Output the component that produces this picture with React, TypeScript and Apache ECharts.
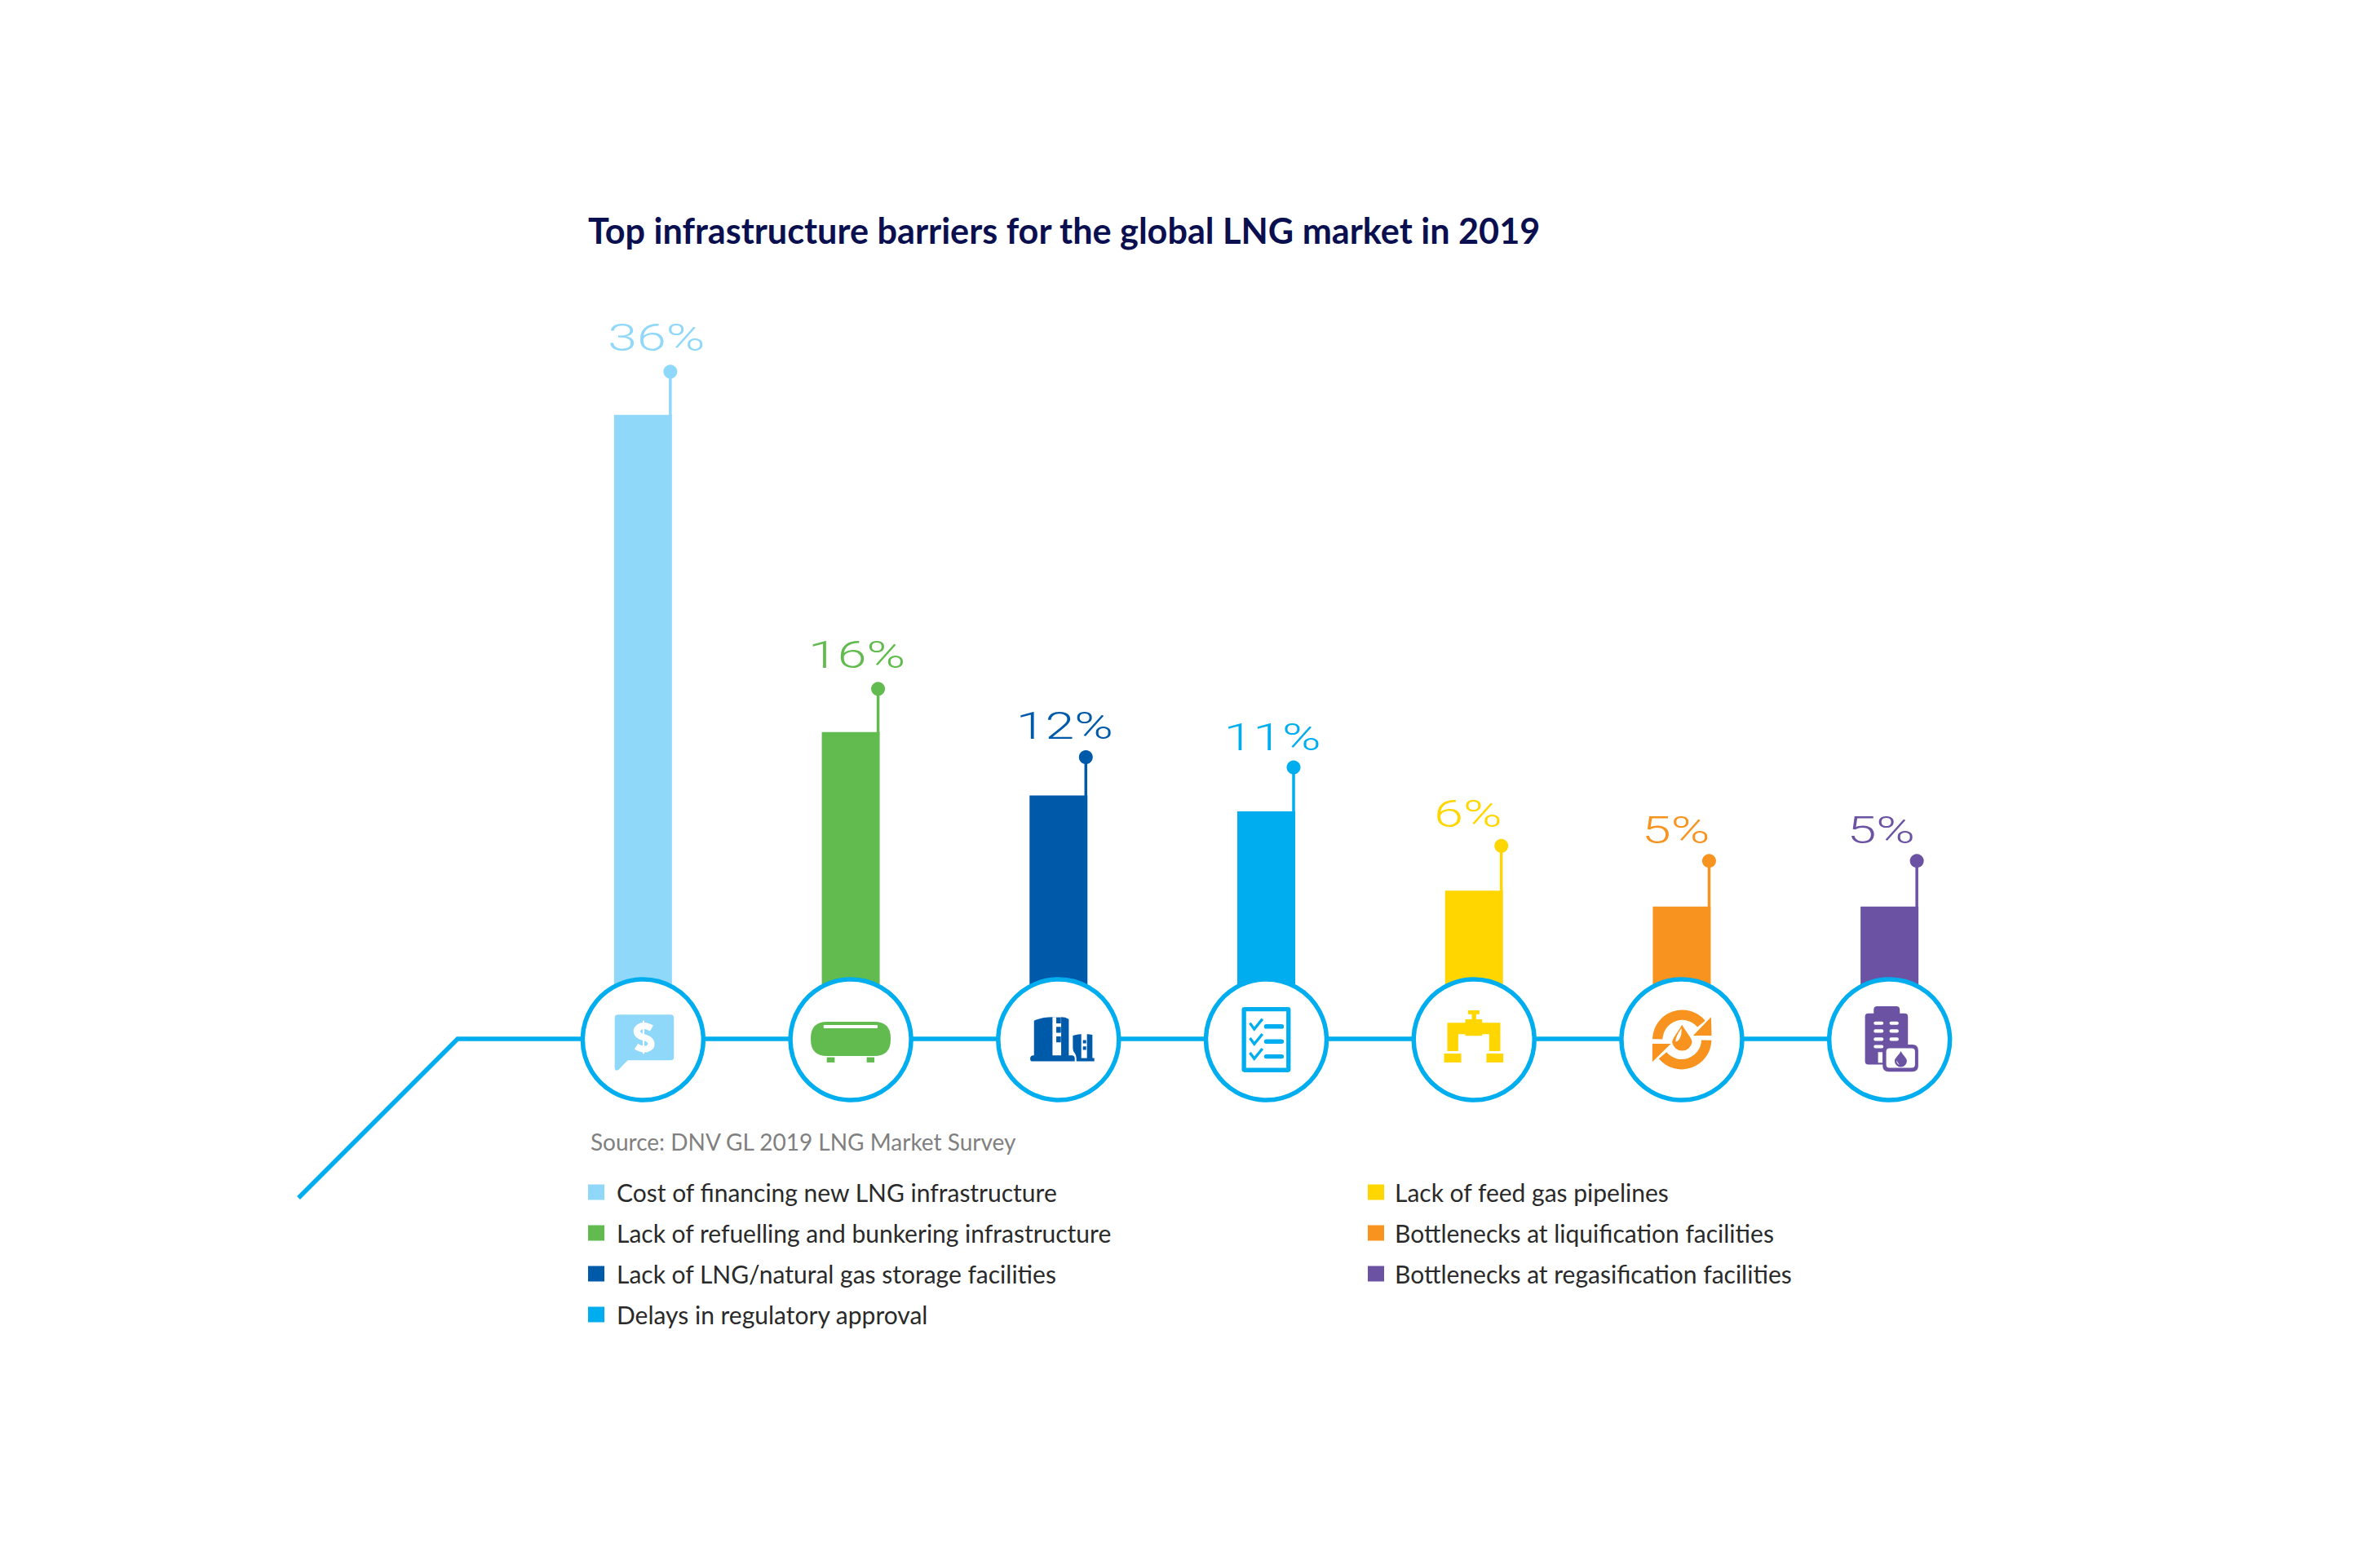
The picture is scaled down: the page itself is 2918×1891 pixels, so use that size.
import React, { useEffect, useRef } from "react";
import * as echarts from "echarts";

const categories = [
  "Cost of financing new LNG infrastructure",
  "Lack of refuelling and bunkering infrastructure",
  "Lack of LNG/natural gas storage facilities",
  "Delays in regulatory approval",
  "Lack of feed gas pipelines",
  "Bottlenecks at liquification facilities",
  "Bottlenecks at regasification facilities",
];
const values = [36, 16, 12, 11, 6, 5, 5];
const colors = ["#8FD8FA", "#62BB4E", "#005AAA", "#00AEEF", "#FFD600", "#F7931E", "#6B52A2"];

const titleText = "Top infrastructure barriers for the global LNG market in 2019";
const sourceText = "Source: DNV GL 2019 LNG Market Survey";

// layout helpers (pixels above the bar top)
const stemLengths = [53, 53, 47, 54, 55, 56, 56];
const labelLifts = [80, 80, 71, 77, 80, 79, 79];
const labelShift = [-43, -52, -52, -52, -49, -49, -52];

type Layer = { d: string; fill?: string; stroke?: string; lw?: number };
const W = "#ffffff";
const rr = (x0: number, y0: number, x1: number, y1: number, r: number) =>
  `M${x0 + r} ${y0}H${x1 - r}Q${x1} ${y0} ${x1} ${y0 + r}V${y1 - r}Q${x1} ${y1} ${x1 - r} ${y1}H${x0 + r}Q${x0} ${y1} ${x0} ${y1 - r}V${y0 + r}Q${x0} ${y0} ${x0 + r} ${y0}Z`;
const MAIN = "main";

const icons: Layer[][] = [
  [
    { d: "M88 88H282Q294 88 294 100V244Q294 256 282 256H124L90 291Q76 298 76 282V100Q76 88 88 88Z", fill: MAIN },
    { d: "M212 138Q188 124 170 132Q152 142 160 158Q166 168 185 172Q205 178 210 190Q214 208 195 214Q175 218 155 205", stroke: W, lw: 24 },
    { d: "M182 110V232", stroke: W, lw: 6 },
  ],
  [
    { d: "M93 114H267Q327 114 327 174V180Q327 240 267 240H93Q33 240 33 180V174Q33 114 93 114Z", fill: MAIN },
    { d: rr(80, 126, 279, 138, 3), fill: W },
    { d: "M92 245H121V264H92Z", fill: MAIN },
    { d: "M239 245H267V264H239Z", fill: MAIN },
  ],
  [
    { d: "M90 110Q120 97 160 97H190Q205 97 218 104V238H232Q240 240 240 248V260H82Q76 260 76 250Q76 238 88 238H90Z", fill: MAIN },
    { d: "M158 97H172V238H158ZM172 97H190V238H172Z", fill: W },
    { d: "M172 133H189V155H172ZM172 168H189V190H172ZM172 98H189V120H172Z", fill: MAIN },
    { d: "M233 165Q265 155 305 162V248H312V260H246V248Q246 238 240 230Q233 222 233 212Z", fill: MAIN },
    { d: "M264 158H285V248H264Z", fill: W },
    { d: "M270 182H282V194H270ZM270 205H282V218H270Z", fill: MAIN },
  ],
  [
    { d: "M100 68H260Q262 68 262 70V290Q262 292 260 292H100Q98 292 98 290V70Q98 68 100 68Z", stroke: MAIN, lw: 16 },
    { d: "M120 119L136 141L166 104", stroke: MAIN, lw: 10 },
    { d: "M120 174L136 196L166 159", stroke: MAIN, lw: 10 },
    { d: "M120 228L136 250L166 213", stroke: MAIN, lw: 10 },
    { d: rr(172, 123, 245, 140, 8), fill: MAIN },
    { d: rr(172, 179, 245, 195, 8), fill: MAIN },
    { d: rr(172, 234, 245, 250, 8), fill: MAIN },
  ],
  [
    { d: "M158 72H200V86H188V105H210V118H277V222H236V160H210V166H148V160H122V222H82V118H148V105H172V86H158Z", fill: MAIN },
    { d: "M70 231H133V264H70Z", fill: MAIN },
    { d: "M226 231H288V264H226Z", fill: MAIN },
  ],
  [
    { d: "M91 178A91 91 0 0 1 252 122", stroke: MAIN, lw: 37 },
    { d: "M288 97L290 165H222Z", fill: MAIN },
    { d: "M271 182A91 91 0 0 1 110 238", stroke: MAIN, lw: 37 },
    { d: "M72 262L72 195H140Z", fill: MAIN },
    { d: "M181 125C195 150 218 175 218 190A37 37 0 0 1 145 190C145 175 168 150 181 125Z", fill: MAIN },
    { d: "M179 138C170 150 155 175 158 188C172 185 181 165 179 138Z", fill: W },
  ],
  [
    { d: "M122 83V70Q122 57 135 57H205Q218 57 218 70V83H236Q248 83 248 95V260Q248 272 236 272H102Q90 272 90 260V95Q90 83 102 83Z", fill: MAIN },
    { d: rr(122, 113, 158, 125, 6), fill: W },
    { d: rr(180, 113, 214, 125, 6), fill: W },
    { d: rr(122, 142, 158, 155, 6), fill: W },
    { d: rr(180, 142, 214, 155, 6), fill: W },
    { d: rr(122, 172, 158, 185, 6), fill: W },
    { d: rr(180, 172, 214, 185, 6), fill: W },
    { d: rr(122, 200, 158, 212, 6), fill: W },
    { d: "M138 226H155V265H138Z", fill: W },
    { d: rr(155, 198, 286, 298, 22), fill: MAIN },
    { d: rr(168, 212, 274, 284, 12), fill: W },
    { d: "M222 222C230 238 244 248 244 258A22 22 0 0 1 199 258C199 248 214 238 222 222Z", fill: MAIN },
    { d: "M206 256C206 266 212 272 217 273C212 268 210 262 206 256Z", fill: W },
  ],
];

icons.forEach((layers, i) =>
  layers.forEach((l, j) => {
    echarts.graphic.registerShape(`ic${i}_${j}`, echarts.graphic.extendPath(l.d, {}) as any);
  })
);

const BODY = "Lato, 'Noto Sans', sans-serif";

export default function App() {
  const ref = useRef<HTMLDivElement>(null);
  useEffect(() => {
    const chart = echarts.init(ref.current!, undefined, { renderer: "svg" });
    const barSeries = categories.map((name, i) => ({
      name,
      type: "bar",
      stack: "all",
      barWidth: 71,
      itemStyle: { color: colors[i] },
      data: values.map((v, j) => (j === i ? v : null)),
      z: 2,
    }));
    const legendBase = {
      orient: "vertical",
      top: 1447,
      padding: 0,
      itemWidth: 20,
      itemHeight: 19,
      itemGap: 20,
      icon: "rect",
      selectedMode: false,
    };
    const legendText = { fontFamily: BODY, fontSize: 30, color: "#2A2A2A", lineHeight: 30 };
    chart.setOption({
      animation: false,
      backgroundColor: "#ffffff",
      title: {
        text: titleText,
        left: 721,
        top: 260,
        padding: 0,
        textStyle: { fontFamily: BODY, fontWeight: 700, fontSize: 43.2, color: "#0A0F50" },
      },
      grid: { left: 661, width: 1783, top: 431, height: 778, containLabel: false },
      xAxis: { type: "category", data: categories, show: false },
      yAxis: { type: "value", min: 0, max: 40, show: false },
      legend: [
        { ...legendBase, data: categories.slice(0, 4), left: 721, textStyle: { ...legendText, padding: [0, 0, 0, 10] } },
        { ...legendBase, data: categories.slice(4), left: 1677, textStyle: { ...legendText, padding: [0, 0, 0, 8] } },
      ],
      graphic: [
        {
          type: "polyline",
          z: 1,
          silent: true,
          shape: { points: [[366, 1469], [561, 1274], [2316, 1274]] },
          style: { stroke: "#00AEEF", lineWidth: 5.5, fill: "none" },
        },
        {
          type: "text",
          x: 724,
          y: 1400,
          silent: true,
          style: {
            text: sourceText,
            fill: "#808080",
            font: `400 28px ${BODY}`,
            textVerticalAlign: "middle",
          },
        },
      ],
      series: [
        ...barSeries,
        {
          type: "custom",
          name: "markers",
          z: 5,
          silent: true,
          clip: false,
          encode: { x: 0, y: 1 },
          data: values.map((v, i) => [i, v]),
          renderItem: (params: any, api: any) => {
            const i = params.dataIndex;
            const v = api.value(1);
            const [cx, top] = api.coord([i, v]);
            const [, base] = api.coord([i, 0]);
            const cy = base + 66;
            const stemX = cx + 33.5;
            const c = colors[i];
            return {
              type: "group",
              children: [
                {
                  type: "line",
                  shape: { x1: stemX, y1: top + 1, x2: stemX, y2: top - stemLengths[i] },
                  style: { stroke: c, lineWidth: 3.5 },
                },
                {
                  type: "circle",
                  shape: { cx: stemX, cy: top - stemLengths[i], r: 8.5 },
                  style: { fill: c },
                },
                {
                  type: "text",
                  x: cx + labelShift[i],
                  y: top - labelLifts[i] + 9,
                  scaleX: 1.4,
                  style: {
                    text: `${v}%`,
                    fill: c,
                    font: "300 46px Roboto, sans-serif",
                    textAlign: "left",
                    textVerticalAlign: "bottom",
                  },
                },
                {
                  type: "circle",
                  shape: { cx, cy, r: 74 },
                  style: { fill: "#ffffff", stroke: "#00AEEF", lineWidth: 5.5 },
                },
                {
                  type: "group",
                  x: cx - 60,
                  y: cy - 60,
                  scaleX: 1 / 3,
                  scaleY: 1 / 3,
                  children: icons[i].map((l, j) => ({
                    type: `ic${i}_${j}`,
                    style: {
                      fill: l.fill ? (l.fill === MAIN ? c : l.fill) : "none",
                      stroke: l.stroke ? (l.stroke === MAIN ? c : l.stroke) : "none",
                      lineWidth: l.lw || 0,
                    },
                  })),
                },
              ],
            };
          },
        },
      ],
    });
    return () => chart.dispose();
  }, []);
  return <div ref={ref} style={{ position: "absolute", left: 0, top: 0, width: 2918, height: 1891 }} />;
}
